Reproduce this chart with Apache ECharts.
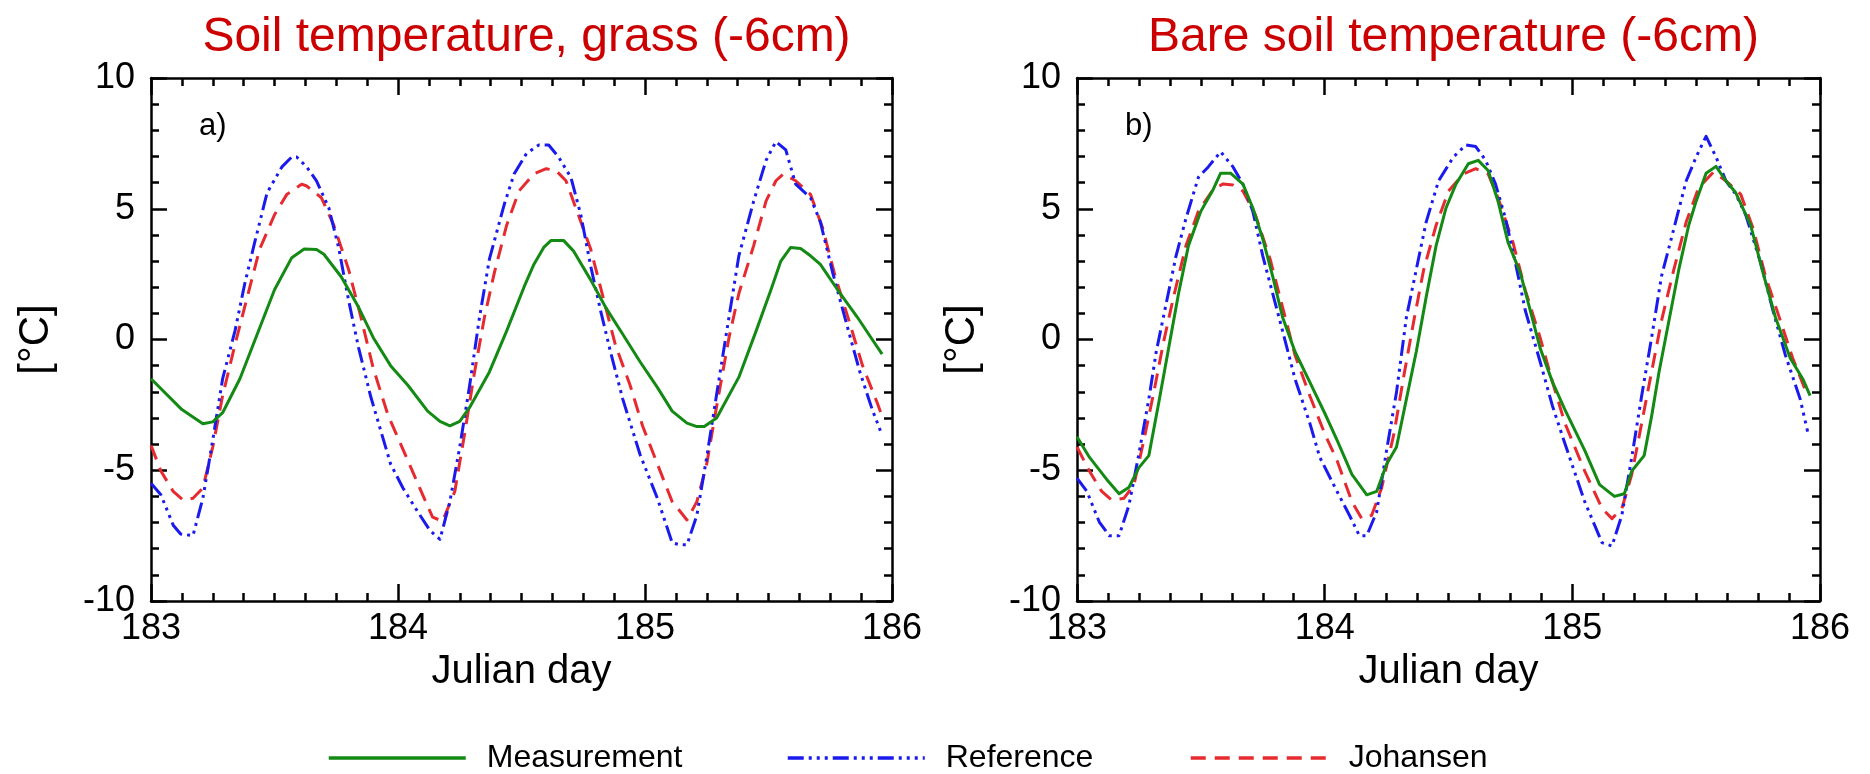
<!DOCTYPE html>
<html>
<head>
<meta charset="utf-8">
<script src="https://cdn.jsdelivr.net/npm/echarts@6/dist/echarts.min.js"></script>
<style>
html,body{margin:0;padding:0;background:#fff;}
#chart{width:1870px;height:774px;}
</style>
</head>
<body>
<div id="chart"></div>
<script>
// ---- Titles / labels ----
const panelTitles = ['Soil temperature, grass (-6cm)', 'Bare soil temperature (-6cm)'];
const panelTags = ['a)', 'b)'];
const seriesNames = ['Measurement', 'Reference', 'Johansen'];
const xName = 'Julian day';
const yName = '[°C]';

// ---- Panel a: grass ----
const grassMeasDay = [183.0,183.125,183.21,183.25,183.29,183.36,183.43,183.5,183.57,183.62,183.67,183.7,183.77,183.84,183.9,183.97,184.04,184.12,184.17,184.21,184.25,184.29,184.37,184.44,184.51,184.55,184.59,184.62,184.67,184.71,184.78,184.84,184.91,184.98,185.05,185.11,185.17,185.21,185.24,185.29,185.38,185.45,185.51,185.55,185.59,185.63,185.67,185.71,185.79,185.86,185.92,185.96];
const grassMeasT   = [-1.5,-2.68,-3.22,-3.15,-2.8,-1.5,0.2,1.9,3.13,3.46,3.44,3.26,2.4,1.24,0.07,-1.0,-1.75,-2.74,-3.13,-3.3,-3.13,-2.6,-1.24,0.33,2.0,2.87,3.52,3.79,3.79,3.39,2.28,1.24,0.2,-0.85,-1.83,-2.74,-3.2,-3.33,-3.33,-3.0,-1.44,0.33,1.9,3.0,3.52,3.48,3.2,2.87,1.76,0.85,0.0,-0.56];

const grassRefDay = [183.0,183.04,183.09,183.12,183.17,183.21,183.25,183.29,183.34,183.38,183.42,183.47,183.53,183.57,183.59,183.63,183.67,183.72,183.76,183.8,183.84,183.89,183.94,183.97,184.02,184.08,184.13,184.17,184.21,184.25,184.29,184.33,184.37,184.43,184.47,184.52,184.57,184.61,184.65,184.7,184.74,184.78,184.82,184.86,184.91,184.98,185.05,185.11,185.14,185.17,185.21,185.25,185.3,185.34,185.38,185.44,185.49,185.53,185.57,185.61,185.67,185.71,185.76,185.82,185.87,185.92,185.96];
const grassRefT   = [-5.5,-5.94,-7.1,-7.44,-7.5,-6.07,-3.85,-1.5,0.33,2.15,3.72,5.61,6.6,6.98,6.98,6.6,6.07,5.03,3.5,1.5,-0.3,-2.2,-3.8,-4.76,-5.68,-6.59,-7.31,-7.64,-6.2,-4.11,-1.76,0.85,3.07,5.16,6.33,7.11,7.44,7.44,6.98,6.2,4.77,2.81,1.11,-0.46,-2.28,-4.4,-6.07,-7.77,-7.85,-7.85,-6.72,-4.5,-1.5,0.85,3.2,5.29,6.85,7.57,7.25,5.94,5.42,4.5,2.55,0.46,-1.24,-2.68,-3.66];

const grassJohDay = [183.0,183.04,183.09,183.13,183.17,183.21,183.25,183.29,183.34,183.39,183.44,183.5,183.55,183.61,183.63,183.69,183.74,183.8,183.85,183.9,183.96,184.04,184.1,184.14,184.18,184.23,184.27,184.31,184.35,184.39,184.44,184.49,184.55,184.6,184.64,184.68,184.72,184.78,184.83,184.88,184.94,184.99,185.05,185.11,185.17,185.21,185.25,185.29,185.34,185.38,185.44,185.49,185.53,185.56,185.61,185.67,185.72,185.77,185.83,185.88,185.94,185.96];
const grassJohT   = [-4.05,-5.03,-5.81,-6.14,-6.07,-5.68,-4.11,-2.15,-0.2,1.63,3.46,4.77,5.55,5.94,5.87,5.42,4.37,2.68,0.85,-1.11,-2.9,-4.63,-5.94,-6.79,-6.95,-5.81,-3.59,-1.24,0.85,2.55,4.37,5.68,6.33,6.53,6.46,6.07,5.03,3.46,1.63,-0.2,-1.76,-3.3,-4.76,-6.2,-6.9,-6.2,-4.76,-2.55,0.07,1.76,3.59,5.29,6.07,6.33,6.07,5.55,4.24,2.42,0.59,-0.98,-2.42,-2.94];

// ---- Panel b: bare soil ----
const bareMeasDay = [183.0,183.05,183.12,183.17,183.21,183.25,183.29,183.33,183.37,183.41,183.45,183.5,183.55,183.58,183.62,183.67,183.71,183.75,183.79,183.83,183.88,183.94,184.0,184.05,184.11,184.17,184.21,184.25,184.29,184.33,184.37,184.41,184.45,184.49,184.53,184.58,184.62,184.66,184.7,184.74,184.79,184.83,184.87,184.92,184.97,185.05,185.11,185.17,185.21,185.24,185.29,185.32,185.35,185.39,185.43,185.47,185.5,185.54,185.58,185.62,185.66,185.72,185.77,185.82,185.88,185.93,185.96];
const bareMeasT   = [-3.72,-4.5,-5.35,-5.9,-5.65,-4.9,-4.44,-2.42,-0.33,1.76,3.59,4.9,5.74,6.36,6.36,5.94,5.03,3.85,2.42,0.85,-0.46,-1.63,-2.81,-3.85,-5.16,-5.94,-5.81,-4.77,-4.11,-2.28,-0.46,1.63,3.59,5.03,5.94,6.72,6.85,6.46,5.29,3.72,2.55,1.11,-0.33,-1.63,-2.68,-4.24,-5.55,-6.0,-5.9,-5.03,-4.44,-2.94,-1.24,0.72,2.68,4.37,5.29,6.36,6.62,6.07,5.61,4.37,2.55,0.85,-0.72,-1.5,-2.15];

const bareRefDay = [183.0,183.04,183.09,183.13,183.17,183.21,183.25,183.29,183.32,183.36,183.4,183.44,183.49,183.53,183.58,183.63,183.67,183.71,183.75,183.79,183.83,183.88,183.94,183.98,184.05,184.1,184.14,184.17,184.21,184.25,184.29,184.33,184.37,184.41,184.46,184.52,184.57,184.61,184.65,184.69,184.73,184.77,184.81,184.87,184.92,184.97,185.05,185.12,185.16,185.2,185.24,185.28,185.32,185.36,185.41,185.46,185.5,185.54,185.58,185.62,185.66,185.7,185.76,185.81,185.86,185.92,185.95];
const bareRefT   = [-5.3,-5.81,-6.98,-7.5,-7.5,-6.33,-4.37,-2.28,-0.46,1.37,3.2,4.63,6.2,6.6,7.18,6.6,5.94,4.9,3.2,1.76,0.33,-1.5,-3.2,-4.5,-5.81,-6.72,-7.5,-7.5,-6.59,-4.24,-2.02,0.85,2.68,4.5,6.07,6.98,7.44,7.38,6.85,5.94,4.63,2.94,1.11,-0.85,-2.55,-3.98,-6.2,-7.77,-7.9,-6.72,-4.5,-2.15,0.07,2.42,4.24,6.07,6.98,7.77,6.98,6.07,5.55,4.77,2.94,1.11,-0.59,-2.28,-3.52];

const bareJohDay = [183.0,183.05,183.1,183.14,183.19,183.23,183.27,183.31,183.35,183.39,183.44,183.49,183.55,183.59,183.63,183.67,183.72,183.78,183.83,183.88,183.94,184.0,184.05,184.11,184.15,184.19,184.23,184.28,184.32,184.36,184.4,184.45,184.5,184.56,184.61,184.66,184.7,184.76,184.81,184.87,184.92,184.97,185.05,185.12,185.16,185.2,185.24,185.28,185.32,185.36,185.41,185.46,185.51,185.57,185.62,185.68,185.73,185.78,185.84,185.89,185.95];
const bareJohT   = [-4.11,-5.03,-5.81,-6.14,-6.07,-5.55,-3.85,-2.02,-0.07,1.63,3.59,4.9,5.74,5.95,5.91,5.68,4.77,3.07,1.24,-0.59,-2.15,-3.6,-4.63,-6.2,-6.85,-6.72,-5.68,-3.59,-1.37,0.72,2.68,4.37,5.68,6.33,6.53,6.33,5.42,3.72,1.89,0.07,-1.63,-3.2,-5.03,-6.46,-6.85,-6.46,-5.16,-3.2,-1.24,0.72,2.68,4.5,5.81,6.4,6.07,5.55,4.24,2.42,0.72,-0.72,-2.15];

// ---- Axis settings ----
const xMin = 183, xMax = 186, xStep = 1;
const yMin = -10, yMax = 10, yStep = 5;

const FONT = '"Liberation Sans", Arial, Helvetica, sans-serif';
const colors = ['#138a13', '#1a1aee', '#e62a2f'];
const dashes = ['solid', [16, 5, 3, 5, 3, 5, 3, 5], [15, 9]];

function pairs(xs, ys) { return xs.map((x, i) => [x, ys[i]]); }

const grids = [
  {left: 151, top: 78, width: 741, height: 523},
  {left: 1077, top: 78, width: 743, height: 523}
];

function xAxes(gi) {
  const common = {
    type: 'value', gridIndex: gi, min: xMin, max: xMax, interval: xStep,
    axisLine: {show: true, onZero: false, lineStyle: {color: '#000', width: 2.5}},
    axisTick: {show: true, inside: true, length: 17, lineStyle: {color: '#000', width: 2.5}},
    minorTick: {show: true, splitNumber: 8, length: 8, lineStyle: {color: '#000', width: 2.5}},
    splitLine: {show: false}
  };
  return [
    Object.assign({}, common, {
      position: 'bottom', name: xName, nameLocation: 'middle', nameGap: 48,
      nameTextStyle: {fontSize: 40, color: '#000', fontFamily: FONT},
      axisLabel: {show: true, fontSize: 36, color: '#000', margin: 10, fontFamily: FONT, showMinLabel: true, showMaxLabel: true}
    }),
    Object.assign({}, common, {position: 'top', axisLabel: {show: false}})
  ];
}
function yAxes(gi) {
  const common = {
    type: 'value', gridIndex: gi, min: yMin, max: yMax, interval: yStep,
    axisLine: {show: true, onZero: false, lineStyle: {color: '#000', width: 2.5}},
    axisTick: {show: true, inside: true, length: 16, lineStyle: {color: '#000', width: 2.5}},
    minorTick: {show: true, splitNumber: 5, length: 8, lineStyle: {color: '#000', width: 2.5}},
    splitLine: {show: false}
  };
  return [
    Object.assign({}, common, {
      position: 'left', name: yName, nameLocation: 'middle', nameGap: 94,
      nameTextStyle: {fontSize: 42, color: '#000', fontFamily: FONT},
      axisLabel: {show: true, fontSize: 36, color: '#000', margin: 16, fontFamily: FONT, showMinLabel: true, showMaxLabel: true}
    }),
    Object.assign({}, common, {position: 'right', axisLabel: {show: false}})
  ];
}

const panelData = [
  [pairs(grassMeasDay, grassMeasT), pairs(grassRefDay, grassRefT), pairs(grassJohDay, grassJohT)],
  [pairs(bareMeasDay, bareMeasT), pairs(bareRefDay, bareRefT), pairs(bareJohDay, bareJohT)]
];

const series = [];
panelData.forEach((set, p) => {
  set.forEach((data, s) => {
    series.push({
      name: seriesNames[s], type: 'line', xAxisIndex: p * 2, yAxisIndex: p * 2,
      data: data, symbol: 'none', showSymbol: false, z: 5 - s,
      lineStyle: {color: colors[s], width: 3, type: dashes[s], cap: 'butt', join: 'round'},
      itemStyle: {color: colors[s]}
    });
  });
});

const legendLeft = [322, 781, 1184];
const legends = seriesNames.map((n, i) => ({
  data: [n], left: legendLeft[i], top: 737, orient: 'horizontal',
  itemWidth: 137, itemHeight: 14, itemGap: 0, selectedMode: false,
  itemStyle: {opacity: 0},
  lineStyle: {color: colors[i], width: 3.5, type: dashes[i], opacity: 1},
  textStyle: {fontSize: 32, color: '#000', fontFamily: FONT, padding: [0, 0, 0, 16]}
}));

const option = {
  animation: false,
  backgroundColor: '#fff',
  textStyle: {fontFamily: FONT},
  title: panelTitles.map((t, i) => ({
    text: t, left: grids[i].left + grids[i].width / 2, top: 9, textAlign: 'center',
    textStyle: {fontSize: 48, fontWeight: 'normal', color: '#cc0000', fontFamily: FONT}
  })),
  grid: grids,
  xAxis: xAxes(0).concat(xAxes(1)),
  yAxis: yAxes(0).concat(yAxes(1)),
  legend: legends,
  graphic: panelTags.map((t, i) => ({
    type: 'text', left: grids[i].left + 48, top: 111,
    style: {text: t, fontSize: 31, fill: '#000', fontFamily: FONT}
  })),
  series: series
};

const chart = echarts.init(document.getElementById('chart'), null, {renderer: 'canvas'});
chart.setOption(option);
</script>
</body>
</html>
